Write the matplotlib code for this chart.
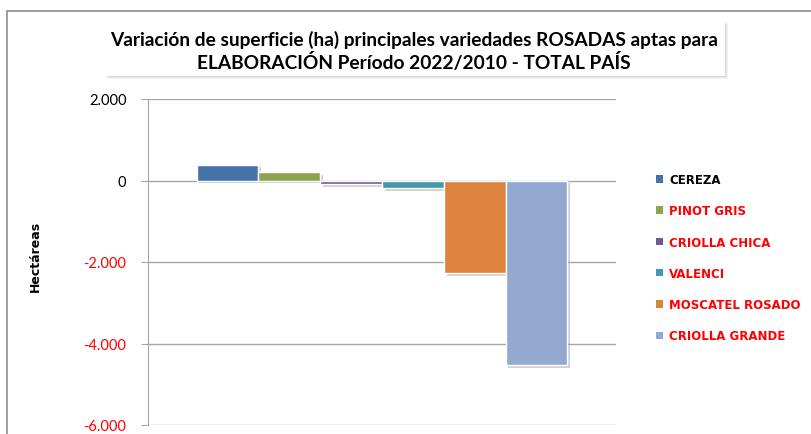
import matplotlib
matplotlib.use("Agg")
import matplotlib.pyplot as plt
import matplotlib.patheffects as pe
from matplotlib.patches import Rectangle
from matplotlib.ticker import FuncFormatter

varieties = ["CEREZA", "PINOT GRIS", "CRIOLLA CHICA", "VALENCI", "MOSCATEL ROSADO", "CRIOLLA GRANDE"]
values = [390, 205, -80, -180, -2280, -4530]
colors = ["#4572A7", "#89A54E", "#71588F", "#4198AF", "#DB843D", "#93A9CF"]
label_colors = ["black", "red", "red", "red", "red", "red"]
yticks = [-6000, -4000, -2000, 0, 2000]

title = "Variación de superficie (ha) principales variedades ROSADAS aptas para\nELABORACIÓN Período 2022/2010 - TOTAL PAÍS"

W, H = 811, 435
fig = plt.figure(figsize=(W / 100, H / 100), dpi=100)
fig.patch.set_facecolor("white")

# outer frame
fig.add_artist(Rectangle((7 / W, -0.1), 1.2, (H - 12) / H + 0.1, transform=fig.transFigure,
                         fill=False, edgecolor="#8c8c8c", linewidth=1.2))

ax = fig.add_axes([148 / W, (H - 426) / H, (616 - 148) / W, (426 - 100) / H])
n = len(values)
width = 0.132
x0 = -width * (n - 1) / 2
for i, (v, c, lab) in enumerate(zip(values, colors, varieties)):
    b = ax.bar(x0 + i * width, v, width=width, color=c, edgecolor="white", linewidth=1.0,
               label=lab, zorder=3)
    for p in b.patches:
        p.set_path_effects([pe.SimplePatchShadow(offset=(2, -2), shadow_rgbFace="#999999", alpha=0.45),
                            pe.Normal()])

ax.set_xlim(-0.5, 0.5)
ax.set_ylim(-6000, 2000)
ax.set_yticks(yticks)
ax.yaxis.set_major_formatter(FuncFormatter(lambda v, p: f"{int(v):,}".replace(",", ".")))
ax.grid(axis="y", color="#a6a6a6", linewidth=1.0, zorder=0)
ax.set_xticks([])
for s in ["top", "right", "bottom"]:
    ax.spines[s].set_visible(False)
ax.spines["left"].set_color("#a6a6a6")
ax.tick_params(axis="y", length=5, color="#a6a6a6", labelsize=10.5, pad=10.5)
for t, v in zip(ax.get_yticklabels(), yticks):
    t.set_color("red" if v < 0 else "black")
    t.set_family("Lato")

fig.text(35 / W, (H - 256) / H, "Hectáreas", rotation=90, ha="center", va="center",
         fontsize=9, fontweight="bold")

# title box with soft shadow
for k, a in enumerate([0.10, 0.10, 0.12]):
    d = 3 - k
    fig.add_artist(Rectangle(((105 + d) / W, (H - 77 - d) / H), (725 - 105) / W, (77 - 22) / H,
                             transform=fig.transFigure, facecolor="#808080", edgecolor="none", alpha=a))
fig.add_artist(Rectangle((105 / W, (H - 77) / H), (725 - 105) / W, (77 - 22) / H,
                         transform=fig.transFigure, facecolor="white", edgecolor="none"))
fig.text(414 / W, (H - 51) / H, title, ha="center", va="center", fontsize=13.75,
         fontweight="bold", family=["Lato", "DejaVu Sans"], linespacing=1.25)

leg = ax.legend(loc="upper left", bbox_to_anchor=(656 / W, (H - 174) / H), bbox_transform=fig.transFigure,
                frameon=False, fontsize=8.5, handlelength=0.6, handleheight=0.6, handletextpad=0.5,
                labelspacing=1.55, borderaxespad=0, borderpad=0)
for t, c in zip(leg.get_texts(), label_colors):
    t.set_color(c)
    t.set_fontweight("bold")
for h in leg.legend_handles:
    h.set_path_effects([])
    h.set_edgecolor("none")

fig.savefig("out.png", dpi=100)
